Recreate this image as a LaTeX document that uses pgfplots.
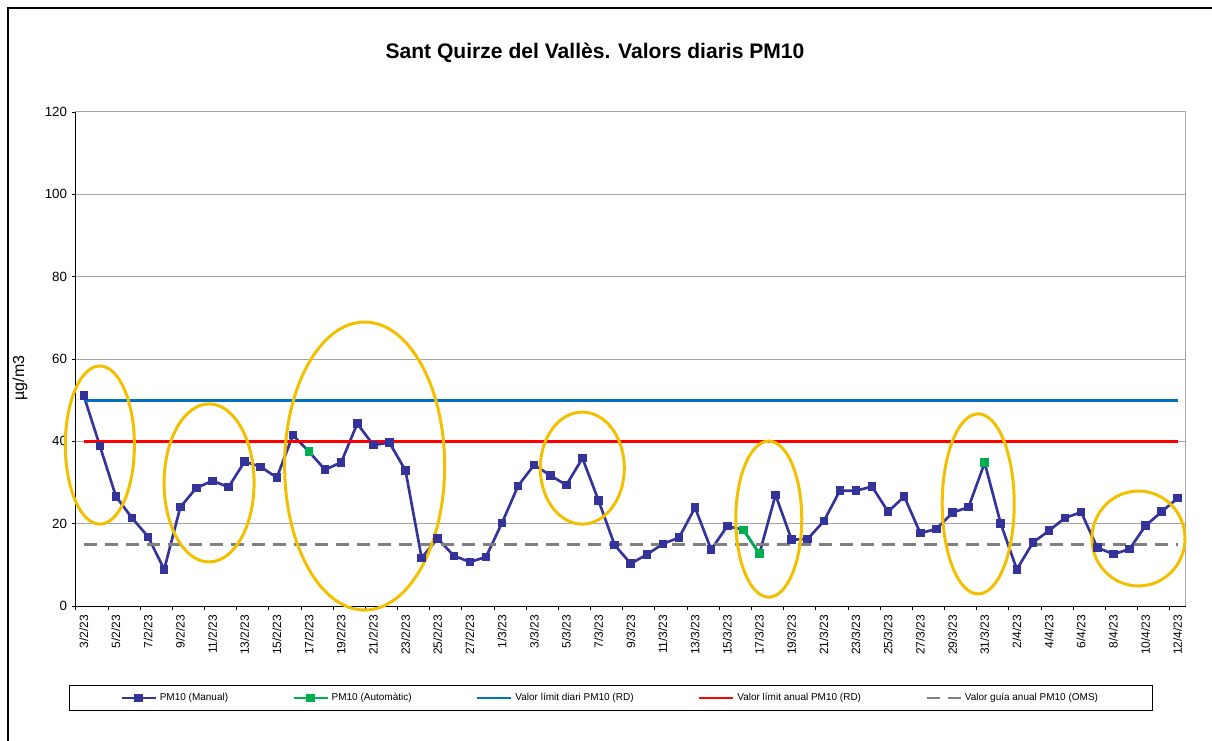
\documentclass[border=0pt]{standalone}
\usepackage{fontspec}
\setmainfont{Liberation Sans}
\usepackage{pgfplots}
\pgfplotsset{compat=1.18}
\definecolor{manual}{RGB}{51,51,153}
\definecolor{autom}{RGB}{0,176,80}
\definecolor{diari}{RGB}{0,112,192}
\definecolor{anual}{RGB}{255,0,0}
\definecolor{guia}{RGB}{128,128,128}
\definecolor{ell}{RGB}{242,192,0}
\definecolor{gridc}{RGB}{166,166,166}
\begin{document}
\begin{tikzpicture}
\useasboundingbox (0,0) rectangle (909pt,555pt);
\draw[line width=1.5pt] (6pt,-20pt) -- (6pt,549pt) -- (930pt,549pt);
\node[font=\bfseries\fontsize{15.8}{18}\selectfont] at (446.25pt,515.25pt) {Sant Quirze del Vallès. Valors diaris PM10};
\node[rotate=90, font=\fontsize{12}{14}\selectfont] at (15pt,271.5pt) {µg/m3};
\begin{axis}[
 at={(56.8pt,100.5pt)}, anchor=south west,
 scale only axis, width=832.5pt, height=370.5pt,
 xmin=-0.5, xmax=68.5, ymin=0, ymax=120,
 ytick={0,20,...,120},
 xtick={0,2,...,68},
 xticklabels={3/2/23,5/2/23,7/2/23,9/2/23,11/2/23,13/2/23,15/2/23,17/2/23,19/2/23,21/2/23,23/2/23,25/2/23,27/2/23,1/3/23,3/3/23,5/3/23,7/3/23,9/3/23,11/3/23,13/3/23,15/3/23,17/3/23,19/3/23,21/3/23,23/3/23,25/3/23,27/3/23,29/3/23,31/3/23,2/4/23,4/4/23,6/4/23,8/4/23,10/4/23,12/4/23},
 minor xtick={-0.5,1.5,...,67.5},
 major x tick style={draw=none},
 tick align=outside, tick pos=left,
 major tick length=3pt, minor tick length=3pt,
 ymajorgrids, grid style={gridc, line width=0.75pt},
 axis line style={gridc, line width=0.75pt},
 tick style={black, line width=0.6pt},
 xticklabel style={rotate=90, anchor=east, font=\fontsize{9}{10}\selectfont},
 yticklabel style={font=\fontsize{10}{12}\selectfont},
 /pgf/number format/assume math mode=true,
 clip=false,
 legend columns=5,
 legend style={at={(0.4818,-0.1862)}, anchor=center, draw=black, line width=0.75pt, font=\fontsize{7.5}{9}\selectfont, inner xsep=38.5pt, inner ysep=4pt, /tikz/every even column/.append style={column sep=46pt}},
 legend image code/.code={\draw[mark repeat=2,mark phase=2] plot coordinates {(0cm,0cm) (0.45cm,0cm) (0.9cm,0cm)};},
]
\addplot[manual, line width=2pt, mark=square*, mark size=2.2pt] coordinates {
(0,51.1) (1,38.9) (2,26.6) (3,21.4) (4,16.8) (5,8.9) (6,24.0) (7,28.7) (8,30.4) (9,28.9)
(10,35.1) (11,33.8) (12,31.2) (13,41.5) (14,37.5) (15,33.1) (16,34.9) (17,44.3) (18,39.1) (19,39.7)
(20,32.9) (21,11.7) (22,16.4) (23,12.2) (24,10.7) (25,11.9) (26,20.2) (27,29.2) (28,34.3) (29,31.7)
(30,29.4) (31,35.9) (32,25.6) (33,14.8) (34,10.3) (35,12.5) (36,15.1) (37,16.6) (38,23.9) (39,13.7)
(40,19.4) (41,18.5) (42,12.7) (43,27.0) (44,16.1) (45,16.3) (46,20.6) (47,28.0) (48,28.0) (49,29.0)
(50,22.9) (51,26.6) (52,17.7) (53,18.7) (54,22.7) (55,24.0) (56,34.8) (57,20.0) (58,8.9) (59,15.4)
(60,18.3) (61,21.4) (62,22.8) (63,14.2) (64,12.6) (65,13.8) (66,19.5) (67,22.9) (68,26.2)};
\addlegendentry{PM10 (Manual)}
\addplot[autom, line width=2pt, mark=square*, mark size=2.2pt, unbounded coords=jump] coordinates {
(14,37.5) (15,nan) (41,18.5) (42,12.7) (43,nan) (56,34.8)};
\addlegendentry{PM10 (Automàtic)}
\addplot[diari, line width=2.2pt] coordinates {(0,50) (68,50)};
\addlegendentry{Valor límit diari PM10 (RD)}
\addplot[anual, line width=2.2pt] coordinates {(0,40) (68,40)};
\addlegendentry{Valor límit anual PM10 (RD)}
\addplot[guia, line width=2.2pt, dash pattern=on 9.75pt off 6pt] coordinates {(0,15) (68,15)};
\addlegendentry{Valor guía anual PM10 (OMS)}
\draw[black, line width=0.75pt] (rel axis cs:0,1) -- (rel axis cs:0,0) -- (rel axis cs:1,0);
\draw[ell, line width=2.25pt] (axis cs:1.0,39.1) ellipse [x radius=25.9pt, y radius=59.3pt];
\draw[ell, line width=2.25pt] (axis cs:7.79,29.9) ellipse [x radius=33.75pt, y radius=59.25pt];
\draw[ell, line width=2.25pt] (axis cs:17.46,34.0) ellipse [x radius=60pt, y radius=108pt];
\draw[ell, line width=2.25pt] (axis cs:30.99,33.5) ellipse [x radius=31.5pt, y radius=42pt];
\draw[ell, line width=2.25pt] (axis cs:42.58,21.1) ellipse [x radius=24.75pt, y radius=58.5pt];
\draw[ell, line width=2.25pt] (axis cs:55.6,24.8) ellipse [x radius=27pt, y radius=67.5pt];
\draw[ell, line width=2.25pt] (axis cs:65.56,16.4) ellipse [x radius=34.9pt, y radius=35.6pt];
\end{axis}
\end{tikzpicture}
\end{document}
